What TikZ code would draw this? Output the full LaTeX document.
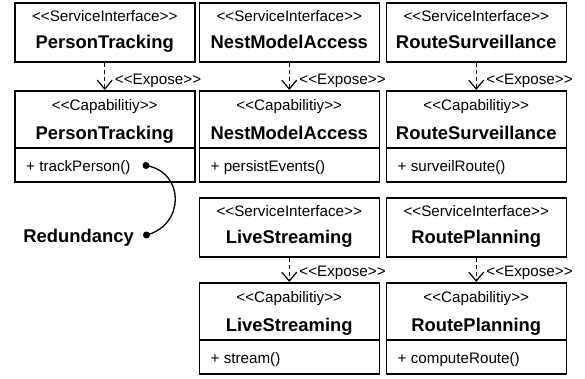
\documentclass[tikz,border=0pt]{standalone}
\usepackage{fontspec}
\setmainfont{Liberation Sans}
\usetikzlibrary{arrows.meta,calc}
\newcommand\OpenSt{<\kern0pt<}
\newcommand\CloseSt{>\kern0pt>}
\tikzset{
 umlbox/.style={draw, line width=1.5pt, inner sep=0pt, anchor=north west, minimum width=180pt},
 stereo/.style={anchor=base, inner sep=0pt, font=\fontsize{15.2}{18}\selectfont},
 cname/.style={anchor=base, inner sep=0pt, font=\fontsize{18.4}{22}\selectfont\bfseries},
 meth/.style={anchor=base west, inner sep=0pt, font=\fontsize{15.2}{18}\selectfont},
 expose/.style={draw, line width=1.2pt, dash pattern=on 4pt off 3pt, -{Straight Barb[length=9pt,width=15pt,line width=1.2pt]}},
 exlabel/.style={anchor=base west, inner sep=0pt, font=\fontsize{15.2}{18}\selectfont},
 dot/.style={circle, fill, inner sep=0pt, minimum size=7pt},
 divider/.style={line width=1.5pt},
}
\newcommand\SIBox[4]{%
 \node[umlbox, minimum height=59pt] (#1) at (#2,#3) {};
 \node[stereo] (#1-st) at ($(#1.north)+(0,19)$) {\OpenSt ServiceInterface\CloseSt};
 \node[cname] (#1-nm) at ($(#1.north)+(0,46)$) {#4};
}
\newcommand\CapBox[5]{%
 \node[umlbox, minimum height=91pt] (#1) at (#2,#3) {};
 \node[stereo] (#1-st) at ($(#1.north)+(0,20)$) {\OpenSt Capabilitiy\CloseSt};
 \node[cname] (#1-nm) at ($(#1.north)+(0,49)$) {#4};
 \draw[divider] ($(#1.north west)+(0,58)$) -- ($(#1.north east)+(0,58)$);
 \node[meth] (#1-m) at ($(#1.north west)+(12,81)$) {+ #5};
}
\begin{document}
\begin{tikzpicture}[x=1pt,y=-1pt]
\useasboundingbox (0,0) rectangle (585,378);
\fill[white] (0,0) rectangle (585,378);
% row 1
\SIBox{s1}{14}{2}{PersonTracking}
\SIBox{s2}{198.5}{2}{NestModelAccess}
\SIBox{s3}{385.5}{2}{RouteSurveillance}
\CapBox{c1}{14}{90}{PersonTracking}{trackPerson()}
\CapBox{c2}{198.5}{90}{NestModelAccess}{persistEvents()}
\CapBox{c3}{385.5}{90}{RouteSurveillance}{surveilRoute()}
% row 2
\SIBox{s4}{198.5}{197}{LiveStreaming}
\SIBox{s5}{385.5}{197}{RoutePlanning}
\CapBox{c4}{198.5}{282}{LiveStreaming}{stream()}
\CapBox{c5}{385.5}{282}{RoutePlanning}{computeRoute()}
% expose
\foreach \a/\b in {s1/c1,s2/c2,s3/c3,s4/c4,s5/c5}{
 \draw[expose] (\a) -- (\b);
 \node[exlabel] (\b-ex) at ($(\b.north)+(10,-6)$) {\OpenSt Expose\CloseSt};
}
% redundancy
\node[dot] (d1) at (146,165.5) {};
\node[dot] (d2) at (146.5,235) {};
\node[cname, anchor=base east] (red) at (134,242) {Redundancy};
\draw[line width=1.3pt] (d1.center) .. controls (185,172) and (185,225) .. (d2.center);
\end{tikzpicture}
\end{document}
